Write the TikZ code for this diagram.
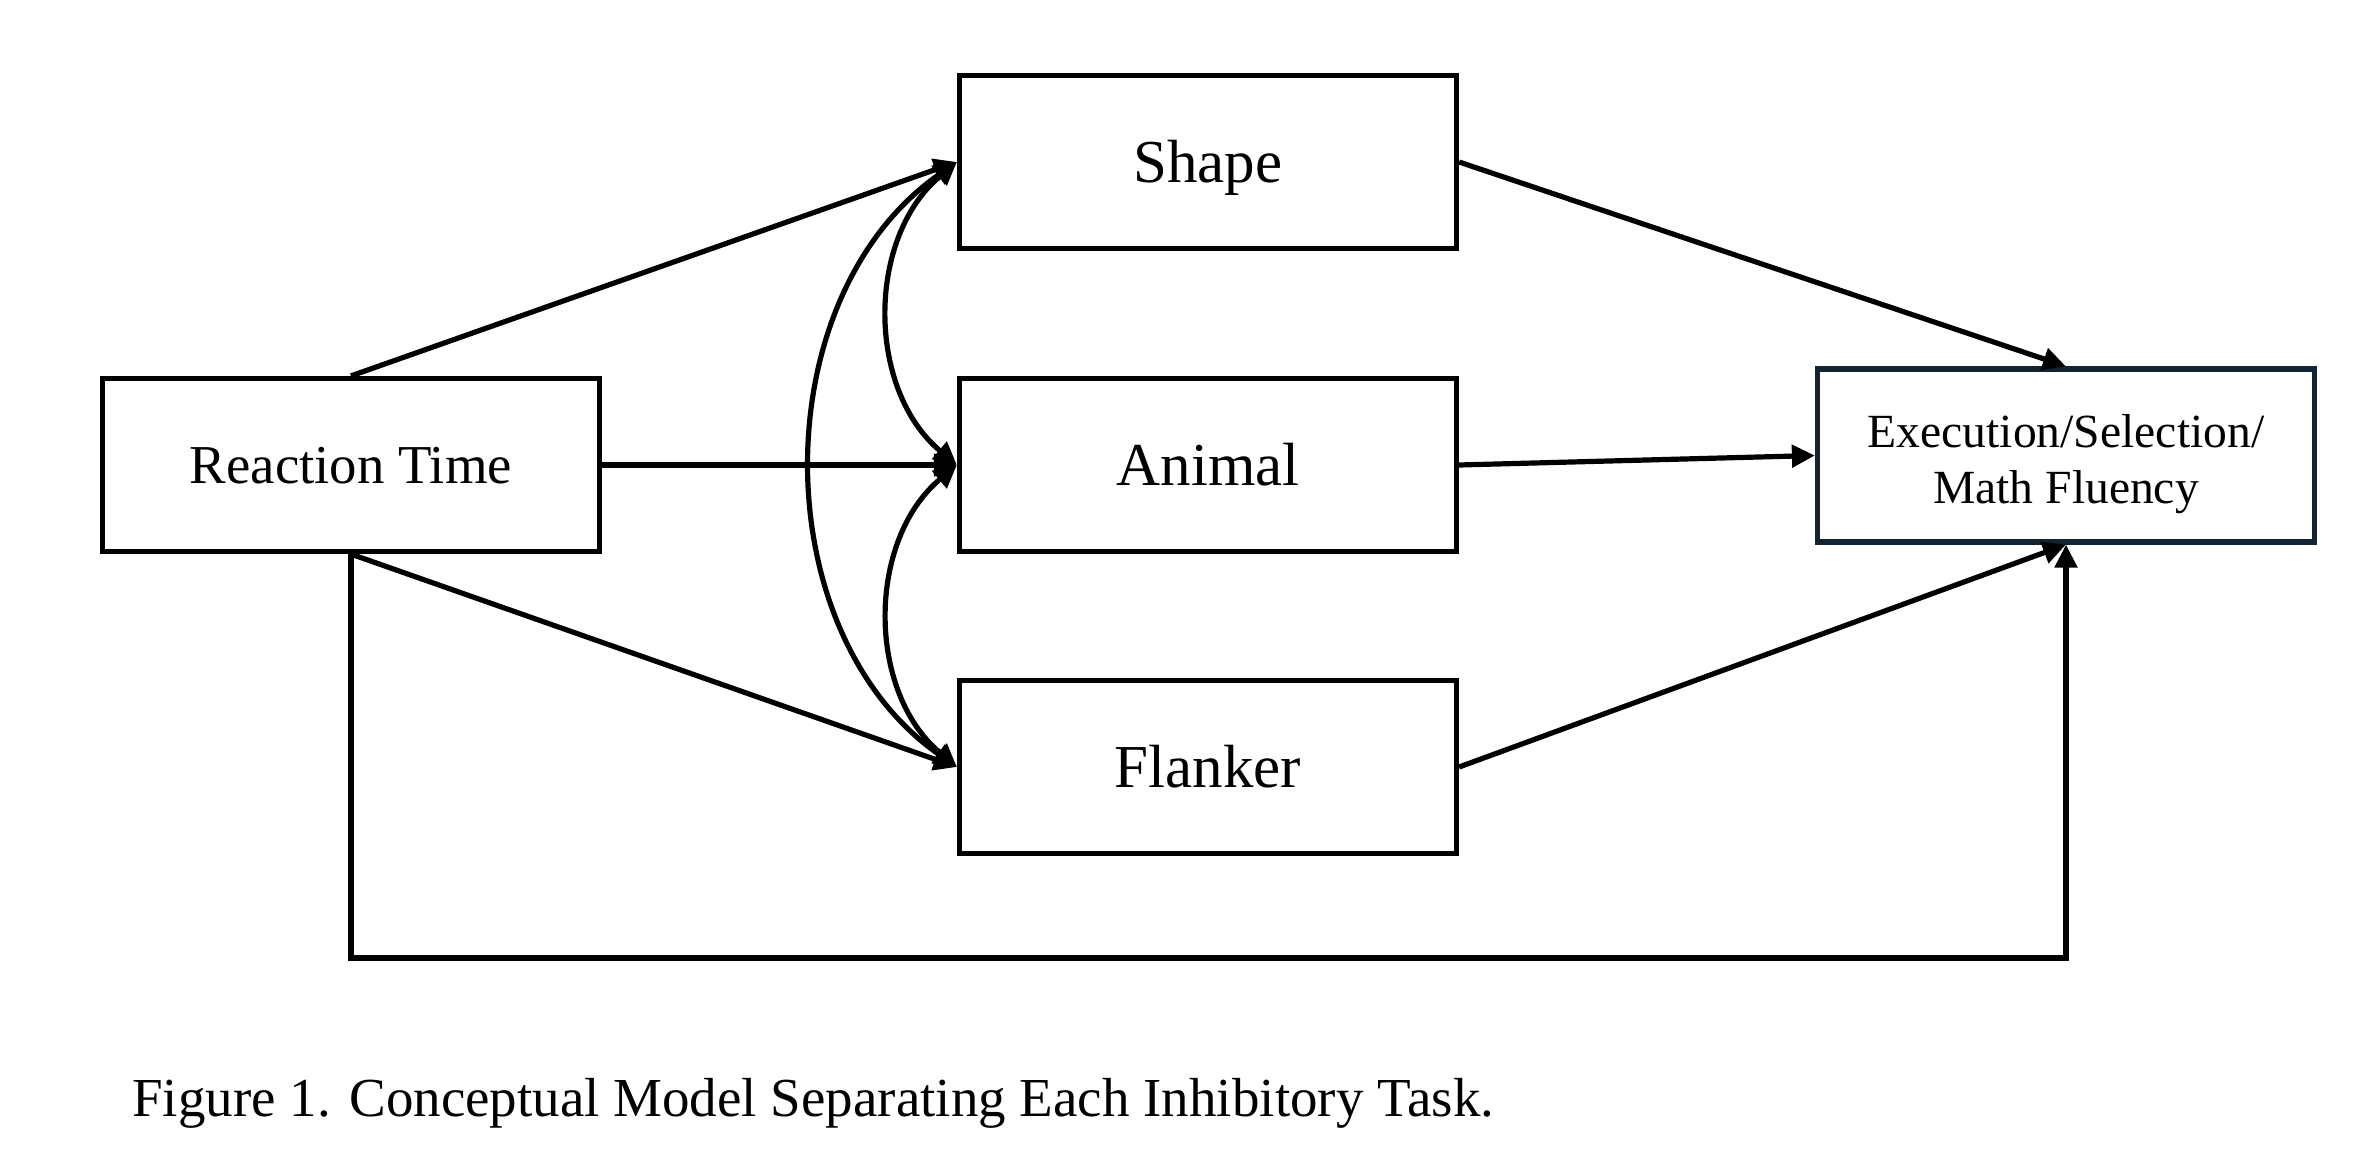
\documentclass[tikz,border=0pt]{standalone}
\usepackage{fontspec}
\setmainfont{Liberation Serif}
\usetikzlibrary{arrows.meta}
\definecolor{navy}{RGB}{18,36,50}
\begin{document}
\begin{tikzpicture}[x=0.5pt,y=-0.5pt,
  box/.style={draw,line width=2.6pt,minimum width=248.5pt,minimum height=86.5pt,inner sep=0pt,align=center,text depth=0pt},
  big/.style={font=\fontsize{30.5}{36}\selectfont,text height=20.2pt},
  conn/.style={line width=2.6pt,-{Triangle[length=11.5pt,width=11pt]}},
  dconn/.style={line width=2.6pt,{Triangle[length=11.5pt,width=11pt]}-{Triangle[length=11.5pt,width=11pt]}}]
\useasboundingbox (0,0) rectangle (2374,1162);
\node[box,font=\fontsize{27.4}{32}\selectfont,text height=18.4pt] (rt) at (351,465) {Reaction Time};
\node[box,big] (sh) at (1208,162) {Shape};
\node[box,big] (an) at (1208,465) {Animal};
\node[box,big] (fl) at (1208,767) {Flanker};
\node[draw=navy,line width=2.6pt,minimum width=248.5pt,minimum height=86.5pt,inner sep=0pt,font=\fontsize{23.8}{28}\selectfont] (ex) at (2066,455.5) {\raisebox{-4.5pt}[\height][\depth]{\begin{tabular}{@{}c@{}}Execution/Selection/\\Math Fluency\end{tabular}}};
\node[anchor=base west,inner sep=0pt,font=\fontsize{27.5}{32}\selectfont] (cap) at (132,1116) {Figure 1. Conceptual Model Separating Each Inhibitory Task.};
\coordinate (low) at (0,958);
\draw[conn] (rt.north) -- (sh.west);
\draw[conn] (rt.east) -- (an.west);
\draw[conn] (rt.south) -- (fl.west);
\draw[conn] (rt.south) -- (rt.south |- low) -| (ex.south);
\draw[conn] (sh.east) -- (ex.north);
\draw[conn] (an.east) -- (ex.west);
\draw[conn] (fl.east) -- (ex.south);
\draw[dconn] (sh.west) to[bend right=50] (an.west);
\draw[dconn] (an.west) to[bend right=50] (fl.west);
\draw[dconn] (sh.west) to[bend right=55] (fl.west);
\end{tikzpicture}
\end{document}
